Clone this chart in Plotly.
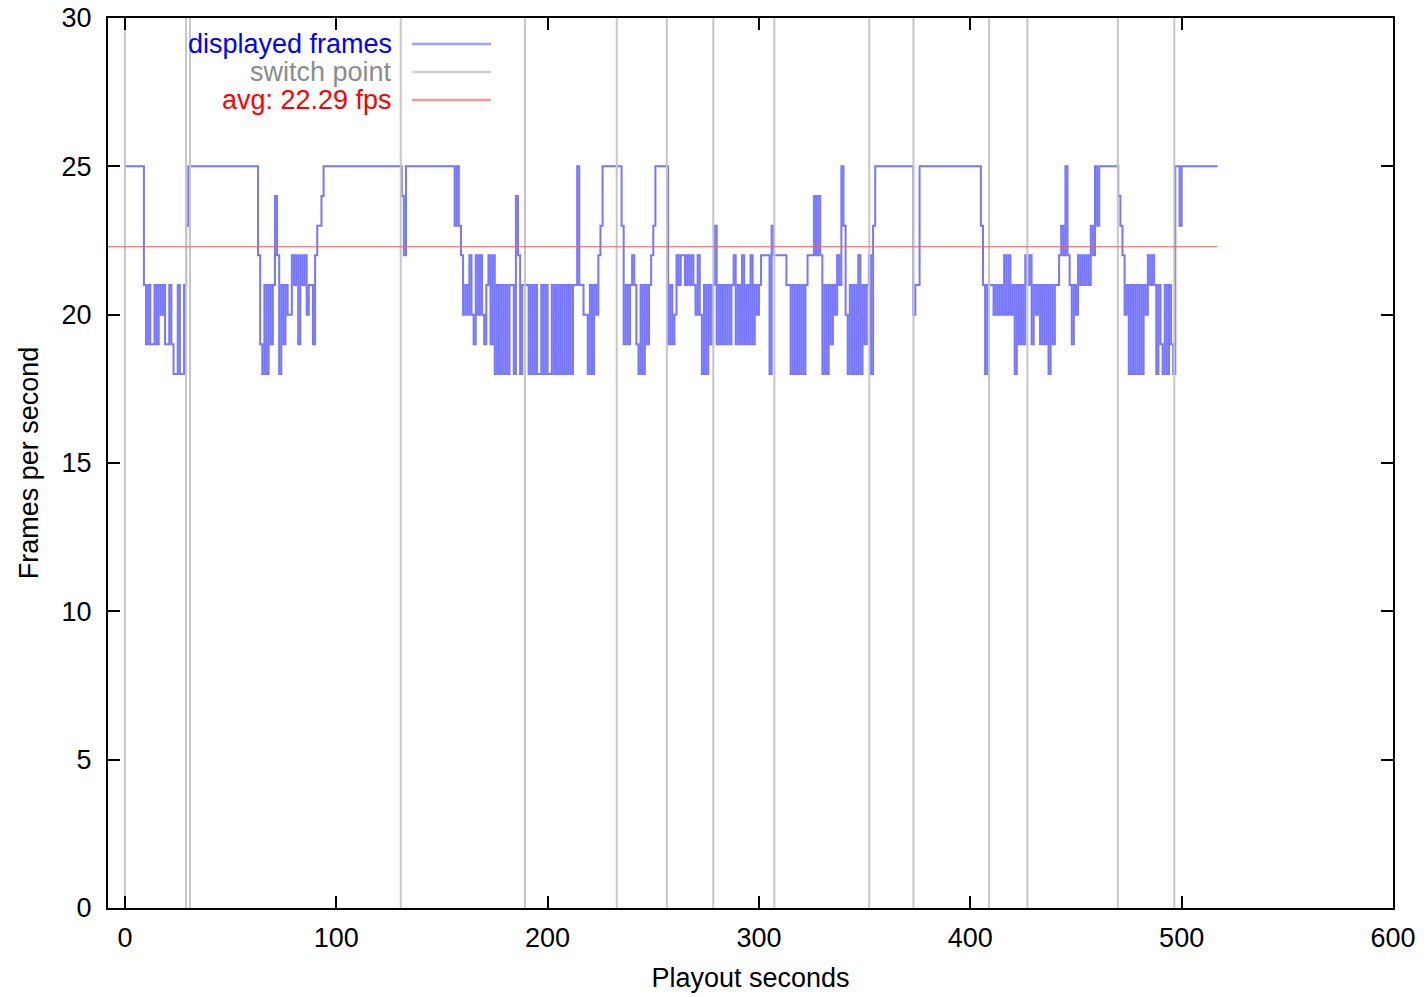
import plotly.graph_objects as go

# Displayed frames per second, one value per playout second (starting at t = 0 s)
fps = [
    25, 25, 25, 25, 25, 25, 25, 25, 25, 21, 19, 21, 19, 19, 21, 19, 21, 20, 21, 19, 19,
    21, 19, 18, 18, 21, 18, 18, 21, 23, 25, 25, 25, 25, 25, 25, 25, 25, 25, 25, 25,
    25, 25, 25, 25, 25, 25, 25, 25, 25, 25, 25, 25, 25, 25, 25, 25, 25, 25, 25, 25,
    25, 25, 22, 19, 18, 21, 18, 21, 19, 21, 24, 22, 18, 21, 19, 21, 20, 20, 22, 21,
    22, 19, 22, 21, 22, 20, 21, 21, 19, 22, 23, 23, 24, 25, 25, 25, 25, 25, 25, 25,
    25, 25, 25, 25, 25, 25, 25, 25, 25, 25, 25, 25, 25, 25, 25, 25, 25, 25, 25, 25,
    25, 25, 25, 25, 25, 25, 25, 25, 25, 25, 24, 22, 25, 25, 25, 25, 25, 25, 25, 25,
    25, 25, 25, 25, 25, 25, 25, 25, 25, 25, 25, 25, 25, 25, 25, 23, 25, 23, 22, 20,
    21, 20, 22, 20, 19, 22, 20, 22, 20, 19, 21, 22, 19, 22, 18, 21, 18, 21, 18, 21,
    18, 21, 21, 18, 24, 22, 18, 21, 21, 21, 18, 21, 18, 21, 18, 18, 21, 18, 21, 18,
    18, 21, 18, 21, 18, 21, 18, 21, 18, 21, 18, 21, 21, 25, 21, 21, 20, 20, 18, 21,
    18, 21, 20, 22, 23, 25, 25, 25, 25, 25, 25, 25, 25, 25, 23, 19, 21, 19, 21, 22,
    21, 19, 18, 21, 18, 21, 19, 21, 22, 23, 25, 25, 25, 25, 25, 25, 19, 21, 19, 20,
    22, 21, 22, 22, 21, 22, 21, 22, 21, 20, 22, 20, 18, 21, 18, 21, 19, 21, 23, 19,
    21, 19, 21, 19, 21, 19, 21, 22, 19, 21, 19, 22, 19, 21, 19, 22, 19, 21, 20, 21,
    22, 22, 22, 22, 18, 23, 22, 22, 22, 22, 22, 22, 21, 21, 18, 21, 18, 21, 18, 21,
    18, 21, 22, 22, 22, 24, 22, 24, 22, 18, 21, 18, 21, 19, 21, 20, 22, 21, 25, 23,
    20, 18, 21, 18, 21, 18, 22, 18, 21, 19, 21, 22, 18, 23, 25, 25, 25, 25, 25, 25,
    25, 25, 25, 25, 25, 25, 25, 25, 25, 25, 25, 25, 20, 21, 21, 25, 25, 25, 25, 25,
    25, 25, 25, 25, 25, 25, 25, 25, 25, 25, 25, 25, 25, 25, 25, 25, 25, 25, 25, 25,
    25, 25, 25, 25, 23, 21, 18, 21, 21, 21, 20, 21, 20, 21, 20, 22, 20, 22, 20, 21,
    18, 21, 19, 21, 19, 22, 21, 22, 19, 21, 20, 21, 19, 21, 19, 21, 18, 21, 19, 21,
    21, 22, 23, 22, 25, 22, 21, 19, 21, 20, 22, 21, 22, 21, 22, 21, 23, 22, 25, 23,
    25, 25, 25, 25, 25, 25, 25, 25, 25, 24, 23, 22, 20, 21, 18, 21, 18, 21, 18, 21,
    18, 21, 20, 22, 21, 22, 21, 18, 21, 19, 18, 21, 18, 21, 19, 18, 25, 25, 23, 25,
    25, 25, 25, 25, 25, 25, 25, 25, 25, 25, 25, 25, 25, 25, 25, 25,
]

# Playout seconds at which a stream switch happened
switch_points = [0, 28.9, 30.8, 130.5, 189.3, 232.7, 256.4, 278.4, 307.3,
                 352.2, 373.1, 408.9, 427.0, 469.8, 496.5]

avg_fps = 22.29

x_ticks = [0, 100, 200, 300, 400, 500, 600]
y_ticks = [0, 5, 10, 15, 20, 25, 30]
x_range = [-8, 600]
y_range = [0, 30]

FONT = "Liberation Sans, Arial, sans-serif"
BLUE = "rgb(118,118,255)"
GRAY = "rgb(198,198,198)"
RED = "rgb(255,90,90)"

# step trace: each value is held for one second
t = list(range(len(fps) + 1))
y = fps + [fps[-1]]

sx, sy = [], []
for s in switch_points:
    sx += [s, s, None]
    sy += [y_range[0], y_range[1], None]

fig = go.Figure()
fig.add_trace(go.Scatter(x=t, y=y, mode="lines", line=dict(color=BLUE, width=2, shape="hv"),
                         name="displayed frames", showlegend=False))
fig.add_trace(go.Scatter(x=sx, y=sy, mode="lines", line=dict(color=GRAY, width=2),
                         name="switch point", showlegend=False))
fig.add_trace(go.Scatter(x=[x_range[0], len(fps)], y=[avg_fps, avg_fps], mode="lines",
                         line=dict(color=RED, width=1.2), name="avg", showlegend=False))

# key in the upper-left corner: right-aligned text followed by a line sample
legend_rows = [
    ("displayed frames", "rgb(0,0,255)", "rgb(160,160,255)"),
    ("switch point", "rgb(140,140,140)", "rgb(205,205,205)"),
    (f"avg: {avg_fps:.2f} fps", "rgb(255,0,0)", "rgb(255,150,150)"),
]
row_y = [0.9708, 0.9393, 0.9079]
for (label, tcol, lcol), ry in zip(legend_rows, row_y):
    fig.add_annotation(x=0.2226, y=ry, xref="paper", yref="paper", text=label,
                       showarrow=False, xanchor="right", yanchor="middle",
                       font=dict(family=FONT, size=27, color=tcol))
    fig.add_shape(type="line", xref="paper", yref="paper", x0=0.2366, x1=0.298,
                  y0=ry, y1=ry, line=dict(color=lcol, width=2.5))

axis_common = dict(showline=True, linecolor="black", linewidth=2, mirror="ticks",
                   ticks="inside", ticklen=12, tickwidth=1.5, tickcolor="black",
                   showgrid=False, zeroline=False, automargin=False,
                   tickfont=dict(family=FONT, size=27, color="black"))

fig.update_xaxes(range=x_range, tickvals=x_ticks, ticktext=[str(v) for v in x_ticks],
                 ticklabelstandoff=5,
                 title=dict(text="Playout seconds", standoff=16,
                            font=dict(family=FONT, size=27, color="black")),
                 **axis_common)
fig.update_yaxes(range=y_range, tickvals=y_ticks, ticktext=[str(v) for v in y_ticks],
                 ticklabelstandoff=9,
                 title=dict(text="Frames per second", standoff=15,
                            font=dict(family=FONT, size=27, color="black")),
                 **axis_common)

fig.update_layout(width=1426, height=997, margin=dict(l=108, r=33, t=18, b=89),
                  paper_bgcolor="white", plot_bgcolor="white", showlegend=False)

fig.write_html("out.html")
